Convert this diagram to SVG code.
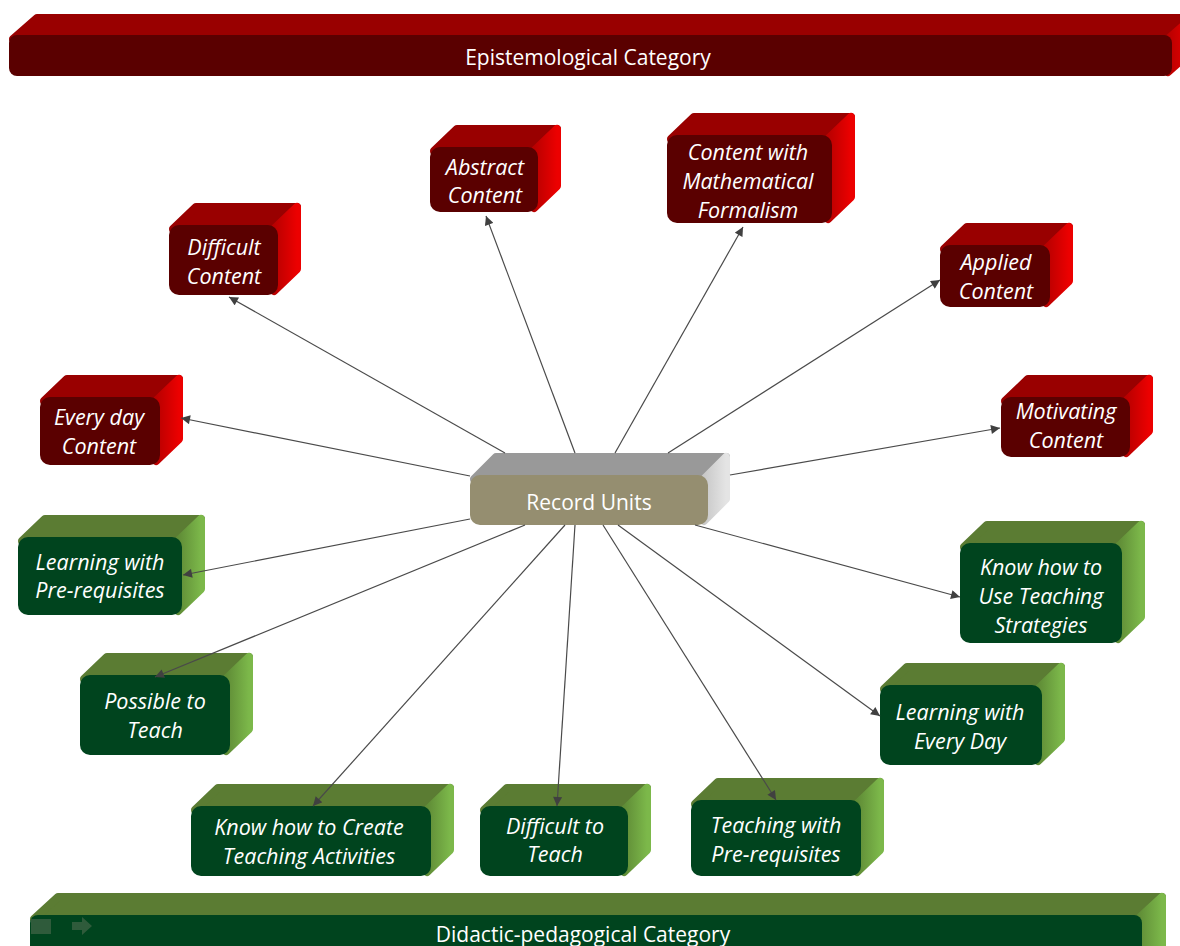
<svg xmlns="http://www.w3.org/2000/svg" width="1180" height="946" viewBox="0 0 1180 946">
<defs>
<linearGradient id="gRed" x1="0" y1="0" x2="1" y2="0"><stop offset="0" stop-color="#b80000"/><stop offset="1" stop-color="#ec0000"/></linearGradient>
<linearGradient id="gGreen" x1="0" y1="0" x2="1" y2="0"><stop offset="0" stop-color="#5f8b36"/><stop offset="1" stop-color="#7cb84a"/></linearGradient>
<linearGradient id="gGray" x1="0" y1="0" x2="1" y2="0"><stop offset="0" stop-color="#c8c8c8"/><stop offset="1" stop-color="#e4e4e4"/></linearGradient>
<marker id="arr" viewBox="0 0 10 10" refX="10" refY="5" markerWidth="10" markerHeight="9" markerUnits="userSpaceOnUse" orient="auto"><path d="M0,0 L10,5 L0,10 Z" fill="#404040"/></marker>
<style>
.rt{fill:#990000;stroke:#990000;stroke-width:8;stroke-linejoin:round}
.rs{fill:url(#gRed);stroke:url(#gRed);stroke-width:8;stroke-linejoin:round}
.rf{fill:#5a0000}
.gt{fill:#5b7c33;stroke:#5b7c33;stroke-width:8;stroke-linejoin:round}
.gs{fill:url(#gGreen);stroke:url(#gGreen);stroke-width:8;stroke-linejoin:round}
.gf{fill:#00441e}
.nt{font-family:"Open Sans",Lato,sans-serif;font-style:italic;font-size:21.5px;fill:#fff;text-anchor:middle}
.bt{font-family:"Open Sans",Lato,sans-serif;font-size:21px;fill:#fff;text-anchor:middle}
.cn line{stroke:#4a4a4a;stroke-width:1.2;marker-end:url(#arr)}
</style>
</defs>
<rect width="1180" height="946" fill="#fff"/>

<g id="banner-top">
<polygon class="rt" points="13,39 37,18 1192,18 1168,39"/>
<polygon class="rs" points="1168,39 1192,18 1192,51 1168,72"/>
<rect class="rf" x="9" y="35" width="1163" height="41" rx="8"/>
<text class="bt" x="588" y="65">Epistemological Category</text>
</g>

<g id="banner-bottom">
<polygon class="gt" points="34,919 58,897 1162,897 1138,919"/>
<polygon class="gs" points="1138,919 1162,897 1162,960 1138,980"/>
<rect class="gf" x="30" y="915" width="1112" height="60" rx="8"/>
<text class="bt" x="583" y="942">Didactic-pedagogical Category</text>
<rect x="31" y="919" width="20" height="15" fill="#2f5b3b"/>
<path d="M72,922 L82,922 L82,917 L92,926 L82,935 L82,930 L72,930 Z" fill="#2f5b3b"/>
</g>

<g id="record-units">
<polygon points="474,479 496,457 726,457 704,479" fill="#999" stroke="#999" stroke-width="8" stroke-linejoin="round"/>
<polygon points="704,479 726,457 726,499 704,521" fill="url(#gGray)" stroke="url(#gGray)" stroke-width="8" stroke-linejoin="round"/>
<rect x="470" y="475" width="238" height="50" rx="10" fill="#958e70"/>
<text class="bt" x="589" y="510">Record Units</text>
</g>

<g id="difficult-content">
<polygon class="rt" points="173,229 196,207 297,207 274,229"/>
<polygon class="rs" points="274,229 297,207 297,269 274,291"/>
<rect class="rf" x="169" y="225" width="109" height="70" rx="10"/>
<text class="nt"><tspan x="224" y="255">Difficult</tspan><tspan x="224" y="284">Content</tspan></text>
</g>

<g id="abstract-content">
<polygon class="rt" points="434,151 457,129 557,129 534,151"/>
<polygon class="rs" points="534,151 557,129 557,186 534,208"/>
<rect class="rf" x="430" y="147" width="108" height="65" rx="10"/>
<text class="nt"><tspan x="485" y="175">Abstract</tspan><tspan x="485" y="203">Content</tspan></text>
</g>

<g id="content-math">
<polygon class="rt" points="671,139 694,117 851,117 828,139"/>
<polygon class="rs" points="828,139 851,117 851,197 828,219"/>
<rect class="rf" x="667" y="135" width="165" height="88" rx="10"/>
<text class="nt"><tspan x="748" y="160">Content with</tspan><tspan x="748" y="189">Mathematical</tspan><tspan x="748" y="218">Formalism</tspan></text>
</g>

<g id="applied-content">
<polygon class="rt" points="944,249 967,227 1069,227 1046,249"/>
<polygon class="rs" points="1046,249 1069,227 1069,281 1046,303"/>
<rect class="rf" x="940" y="245" width="110" height="62" rx="10"/>
<text class="nt"><tspan x="996" y="270">Applied</tspan><tspan x="996" y="299">Content</tspan></text>
</g>

<g id="everyday-content">
<polygon class="rt" points="44,401 67,379 179,379 156,401"/>
<polygon class="rs" points="156,401 179,379 179,439 156,461"/>
<rect class="rf" x="40" y="397" width="120" height="68" rx="10"/>
<text class="nt"><tspan x="99" y="425">Every day</tspan><tspan x="99" y="454">Content</tspan></text>
</g>

<g id="motivating-content">
<polygon class="rt" points="1005,401 1028,379 1149,379 1126,401"/>
<polygon class="rs" points="1126,401 1149,379 1149,431 1126,453"/>
<rect class="rf" x="1001" y="397" width="129" height="60" rx="10"/>
<text class="nt"><tspan x="1066" y="419">Motivating</tspan><tspan x="1066" y="448">Content</tspan></text>
</g>

<g id="learning-prereq">
<polygon class="gt" points="22,541 45,519 201,519 178,541"/>
<polygon class="gs" points="178,541 201,519 201,589 178,611"/>
<rect class="gf" x="18" y="537" width="164" height="78" rx="10"/>
<text class="nt"><tspan x="100" y="570">Learning with</tspan><tspan x="100" y="598">Pre-requisites</tspan></text>
</g>

<g id="possible-teach">
<polygon class="gt" points="84,679 107,657 249,657 226,679"/>
<polygon class="gs" points="226,679 249,657 249,729 226,751"/>
<rect class="gf" x="80" y="675" width="150" height="80" rx="10"/>
<text class="nt"><tspan x="155" y="709">Possible to</tspan><tspan x="155" y="738">Teach</tspan></text>
</g>

<g id="know-create">
<polygon class="gt" points="195,810 218,788 450,788 427,810"/>
<polygon class="gs" points="427,810 450,788 450,850 427,872"/>
<rect class="gf" x="191" y="806" width="240" height="70" rx="10"/>
<text class="nt"><tspan x="309" y="835">Know how to Create</tspan><tspan x="309" y="864">Teaching Activities</tspan></text>
</g>

<g id="difficult-teach">
<polygon class="gt" points="484,810 507,788 647,788 624,810"/>
<polygon class="gs" points="624,810 647,788 647,850 624,872"/>
<rect class="gf" x="480" y="806" width="148" height="70" rx="10"/>
<text class="nt"><tspan x="555" y="834">Difficult to</tspan><tspan x="555" y="862">Teach</tspan></text>
</g>

<g id="teaching-prereq">
<polygon class="gt" points="695,804 718,782 880,782 857,804"/>
<polygon class="gs" points="857,804 880,782 880,850 857,872"/>
<rect class="gf" x="691" y="800" width="170" height="76" rx="10"/>
<text class="nt"><tspan x="776" y="833">Teaching with</tspan><tspan x="776" y="862">Pre-requisites</tspan></text>
</g>

<g id="learning-everyday">
<polygon class="gt" points="884,689 907,667 1061,667 1038,689"/>
<polygon class="gs" points="1038,689 1061,667 1061,739 1038,761"/>
<rect class="gf" x="880" y="685" width="162" height="80" rx="10"/>
<text class="nt"><tspan x="960" y="720">Learning with</tspan><tspan x="960" y="749">Every Day</tspan></text>
</g>

<g id="know-use">
<polygon class="gt" points="964,547 987,525 1141,525 1118,547"/>
<polygon class="gs" points="1118,547 1141,525 1141,617 1118,639"/>
<rect class="gf" x="960" y="543" width="162" height="100" rx="10"/>
<text class="nt"><tspan x="1041" y="575">Know how to</tspan><tspan x="1041" y="604">Use Teaching</tspan><tspan x="1041" y="633">Strategies</tspan></text>
</g>

<g id="connectors" class="cn">
<line x1="505" y1="453" x2="229" y2="297"/>
<line x1="575" y1="453" x2="486" y2="216"/>
<line x1="615" y1="453" x2="743" y2="227"/>
<line x1="668" y1="453" x2="940" y2="280"/>
<line x1="470" y1="476" x2="181" y2="418"/>
<line x1="730" y1="475" x2="1000" y2="428"/>
<line x1="470" y1="519" x2="183" y2="575"/>
<line x1="525" y1="525" x2="155" y2="677"/>
<line x1="565" y1="525" x2="313" y2="806"/>
<line x1="575" y1="525" x2="557" y2="806"/>
<line x1="603" y1="525" x2="776" y2="800"/>
<line x1="618" y1="525" x2="880" y2="716"/>
<line x1="695" y1="525" x2="960" y2="597"/>
</g>
</svg>
